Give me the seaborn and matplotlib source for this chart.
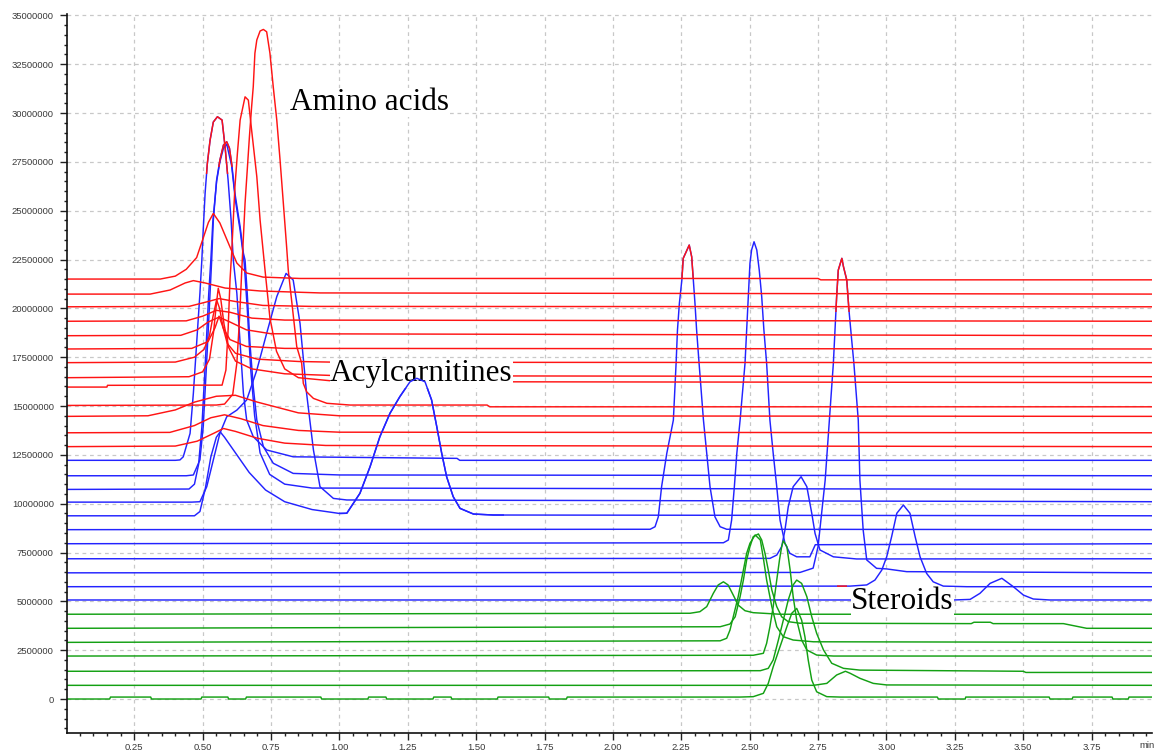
import numpy as np
import pandas as pd
import matplotlib
matplotlib.use("Agg")
import matplotlib.pyplot as plt
from matplotlib.patches import Rectangle
from matplotlib.ticker import MultipleLocator, FuncFormatter
import seaborn as sns

# ---------------- data (time in min, intensity in millions of counts) ----------------
red_traces = [
    [(0, 21.50), (0.345, 21.50), (0.40, 21.65), (0.44, 22.0), (0.478, 22.6), (0.502, 23.6), (0.521, 24.4),
     (0.539, 24.86), (0.563, 24.37), (0.600, 23.14), (0.625, 22.32), (0.661, 21.81), (0.721, 21.60), (0.856, 21.53),
     (2.75, 21.53), (2.76, 21.46), (4.0, 21.46)],
    [(0, 20.73), (0.308, 20.73), (0.381, 20.94), (0.436, 21.30), (0.466, 21.42), (0.509, 21.30), (0.582, 21.04),
     (0.710, 20.89), (0.929, 20.79), (4.0, 20.73)],
    [(0, 20.08), (0.45, 20.10), (0.52, 20.35), (0.56, 20.5), (0.62, 20.35), (0.72, 20.15), (0.9, 20.1),
     (4.0, 20.08)],
    [(0, 19.34), (0.44, 19.36), (0.50, 19.6), (0.55, 19.9), (0.60, 19.8), (0.68, 19.5), (0.8, 19.4), (4.0, 19.34)],
    [(0, 18.60), (0.42, 18.62), (0.48, 18.9), (0.52, 19.3), (0.56, 19.55), (0.60, 19.3), (0.66, 18.9),
     (0.75, 18.7), (4.0, 18.60)],
    [(0, 17.92), (0.46, 17.95), (0.52, 18.3), (0.545, 19.0), (0.560, 19.6), (0.575, 19.0), (0.60, 18.4),
     (0.66, 18.05), (0.8, 17.95), (4.0, 17.92)],
    [(0, 17.22), (0.40, 17.25), (0.47, 17.5), (0.505, 17.9), (0.525, 18.6), (0.538, 19.6), (0.551, 20.43),
     (0.562, 20.0), (0.575, 19.0), (0.59, 18.2), (0.62, 17.7), (0.70, 17.4), (0.85, 17.28), (1.0, 17.24),
     (4.0, 17.22)],
    [(0, 16.45), (0.45, 16.5), (0.50, 16.75), (0.525, 17.4), (0.540, 18.8), (0.550, 20.2), (0.557, 21.03),
     (0.566, 20.5), (0.578, 19.2), (0.595, 18.0), (0.62, 17.3), (0.68, 16.9), (0.80, 16.65), (1.0, 16.55),
     (4.0, 16.5)],
    [(0, 15.97), (0.15, 15.97), (0.152, 16.06), (0.571, 16.07), (0.585, 16.84), (0.593, 18.89), (0.600, 21.45),
     (0.606, 22.82), (0.612, 24.52), (0.618, 26.23), (0.627, 27.93), (0.637, 29.64), (0.655, 30.83), (0.667, 30.66),
     (0.679, 29.13), (0.698, 26.74), (0.710, 24.52), (0.728, 21.96), (0.746, 19.5), (0.77, 17.8), (0.80, 16.9),
     (0.85, 16.45), (1.0, 16.25), (4.0, 16.2)],
    [(0, 15.03), (0.55, 15.05), (0.58, 15.1), (0.61, 15.6), (0.625, 17.2), (0.635, 19.5), (0.643, 21.96),
     (0.649, 23.67), (0.655, 25.38), (0.663, 27.08), (0.671, 28.79), (0.679, 30.32), (0.685, 31.35), (0.691, 33.06),
     (0.698, 33.74), (0.710, 34.2), (0.722, 34.28), (0.734, 34.16), (0.746, 33.06), (0.758, 31.35), (0.771, 29.64),
     (0.783, 27.59), (0.795, 25.38), (0.807, 23.15), (0.813, 21.96), (0.830, 19.8), (0.844, 18.04), (0.862, 17.19),
     (0.868, 16.16), (0.880, 15.73), (0.905, 15.39), (0.954, 15.14), (1.039, 15.05), (1.54, 15.05), (1.55, 14.96),
     (4.0, 14.96)],
    [(0, 14.47), (0.30, 14.5), (0.40, 14.8), (0.47, 15.2), (0.55, 15.5), (0.62, 15.55), (0.70, 15.2),
     (0.85, 14.65), (1.0, 14.5), (4.0, 14.47)],
    [(0, 13.63), (0.38, 13.65), (0.47, 14.0), (0.53, 14.4), (0.58, 14.55), (0.64, 14.35), (0.72, 14.0),
     (0.85, 13.75), (1.0, 13.66), (4.0, 13.63)],
    [(0, 12.92), (0.40, 12.95), (0.48, 13.2), (0.54, 13.6), (0.576, 13.85), (0.62, 13.7), (0.70, 13.35),
     (0.80, 13.1), (0.95, 12.98), (4.0, 12.92)],
]

blue_traces = [
    [(0, 12.22), (0.40, 12.22), (0.417, 12.24), (0.429, 12.40), (0.454, 13.60), (0.466, 15.65), (0.478, 18.21),
     (0.490, 20.77), (0.497, 22.47), (0.502, 24.0), (0.509, 25.9), (0.517, 27.4), (0.527, 28.6), (0.539, 29.54),
     (0.554, 29.81), (0.571, 29.64), (0.582, 28.26), (0.593, 26.57), (0.604, 24.52), (0.612, 22.47), (0.625, 20.77),
     (0.637, 18.21), (0.649, 15.65), (0.661, 14.28), (0.685, 13.43), (0.734, 12.75), (0.831, 12.40), (1.43, 12.32),
     (1.44, 12.22), (4.0, 12.22)],
    [(0, 11.43), (0.44, 11.43), (0.466, 11.47), (0.490, 12.24), (0.502, 13.94), (0.515, 17.35), (0.527, 20.77),
     (0.533, 22.47), (0.539, 24.52), (0.551, 26.57), (0.563, 27.59), (0.576, 28.36), (0.588, 28.53), (0.598, 28.2),
     (0.606, 27.42), (0.618, 25.89), (0.637, 24.18), (0.649, 22.82), (0.655, 22.47), (0.663, 20.77), (0.673, 18.21),
     (0.685, 15.99), (0.698, 14.28), (0.722, 12.92), (0.758, 12.07), (0.831, 11.55), (1.002, 11.47), (4.0, 11.43)],
    [(0, 10.73), (0.45, 10.75), (0.47, 11.0), (0.485, 12.0), (0.497, 13.9), (0.510, 17.3), (0.522, 20.7),
     (0.530, 22.5), (0.537, 24.4), (0.551, 26.5), (0.563, 27.5), (0.576, 28.2), (0.588, 28.4), (0.606, 27.3),
     (0.620, 25.5), (0.637, 24.0), (0.652, 22.3), (0.663, 20.0), (0.675, 17.0), (0.690, 14.5), (0.710, 12.6),
     (0.745, 11.5), (0.80, 11.0), (0.9, 10.8), (4.0, 10.73)],
    [(0, 10.08), (0.46, 10.08), (0.490, 10.10), (0.515, 10.87), (0.539, 12.24), (0.563, 13.60), (0.588, 14.45),
     (0.625, 14.79), (0.661, 15.31), (0.698, 16.84), (0.734, 18.72), (0.771, 20.60), (0.805, 21.79), (0.831, 21.45),
     (0.856, 19.23), (0.880, 15.65), (0.905, 12.75), (0.929, 10.87), (0.978, 10.27), (1.027, 10.19), (4.0, 10.10)],
    [(0, 9.38), (0.47, 9.38), (0.49, 9.6), (0.51, 10.8), (0.53, 12.4), (0.55, 13.4), (0.564, 13.68), (0.58, 13.4),
     (0.62, 12.6), (0.67, 11.6), (0.73, 10.7), (0.80, 10.1), (0.90, 9.7), (1.0, 9.5), (1.027, 9.51), (1.075, 10.53),
     (1.112, 11.89), (1.148, 13.43), (1.185, 14.63), (1.221, 15.48), (1.258, 16.24), (1.283, 16.42), (1.313, 16.24),
     (1.337, 15.31), (1.356, 13.94), (1.374, 12.58), (1.392, 11.38), (1.416, 10.36), (1.441, 9.76), (1.490, 9.47),
     (1.563, 9.42), (4.0, 9.38)],
    [(0, 8.67), (2.136, 8.69), (2.154, 8.82), (2.166, 9.33), (2.178, 10.87), (2.197, 12.58), (2.221, 14.28),
     (2.231, 17.19), (2.236, 18.89), (2.243, 20.26), (2.252, 21.45), (2.257, 22.56), (2.279, 23.24), (2.288, 22.64),
     (2.294, 21.45), (2.300, 20.26), (2.306, 18.89), (2.315, 17.19), (2.331, 14.28), (2.343, 12.58), (2.355, 10.87),
     (2.373, 9.33), (2.392, 8.82), (2.416, 8.69), (4.0, 8.67)],
    [(0, 7.95), (2.404, 8.00), (2.422, 8.14), (2.434, 9.16), (2.444, 10.87), (2.453, 12.58), (2.465, 14.28),
     (2.483, 17.19), (2.489, 18.89), (2.495, 20.60), (2.501, 22.30), (2.507, 22.99), (2.516, 23.41), (2.526, 22.99),
     (2.535, 21.96), (2.544, 20.60), (2.552, 18.89), (2.562, 17.19), (2.574, 14.28), (2.586, 12.58), (2.599, 10.87),
     (2.611, 9.16), (2.629, 7.97), (2.647, 7.46), (2.672, 7.28), (2.72, 7.28), (2.74, 7.9), (4.0, 7.95)],
    [(0, 7.18), (2.574, 7.20), (2.599, 7.37), (2.617, 7.80), (2.629, 8.65), (2.641, 9.84), (2.659, 10.87),
     (2.688, 11.38), (2.709, 10.87), (2.727, 9.51), (2.739, 8.48), (2.757, 7.63), (2.806, 7.28), (2.891, 7.17),
     (4.0, 7.18)],
    [(0, 6.46), (2.684, 6.48), (2.732, 6.7), (2.750, 7.8), (2.776, 11.2), (2.806, 17.19), (2.812, 18.89),
     (2.818, 20.60), (2.824, 21.96), (2.837, 22.56), (2.843, 22.13), (2.855, 21.45), (2.863, 19.91), (2.873, 18.38),
     (2.881, 17.19), (2.897, 14.28), (2.903, 11.21), (2.915, 8.65), (2.928, 7.12), (2.964, 6.69), (3.001, 6.66),
     (3.074, 6.52), (4.0, 6.46)],
    [(0, 5.75), (2.867, 5.78), (2.928, 5.84), (2.958, 6.09), (2.983, 6.60), (3.001, 7.28), (3.019, 8.31),
     (3.038, 9.51), (3.062, 9.93), (3.086, 9.51), (3.105, 8.31), (3.123, 7.28), (3.147, 6.43), (3.171, 6.00),
     (3.208, 5.78), (3.294, 5.75), (4.0, 5.75)],
    [(0, 5.07), (3.245, 5.07), (3.306, 5.10), (3.342, 5.41), (3.379, 5.92), (3.422, 6.18), (3.464, 5.75),
     (3.501, 5.32), (3.537, 5.12), (3.598, 5.07), (4.0, 5.07)],
]

green_traces = [
    [(0, 4.34), (2.282, 4.39), (2.318, 4.47), (2.343, 4.73), (2.367, 5.41), (2.385, 5.84), (2.404, 6.00),
     (2.421, 5.84), (2.440, 5.32), (2.458, 4.81), (2.483, 4.52), (2.513, 4.42), (2.611, 4.34), (4.0, 4.34)],
    [(0, 3.62), (2.392, 3.70), (2.428, 3.84), (2.447, 4.21), (2.465, 5.24), (2.477, 6.09), (2.489, 7.12),
     (2.501, 7.80), (2.513, 8.31), (2.532, 8.45), (2.544, 8.14), (2.556, 7.46), (2.568, 6.60), (2.581, 5.58),
     (2.599, 4.73), (2.617, 4.21), (2.641, 3.96), (2.684, 3.88), (3.31, 3.86), (3.32, 3.93), (3.38, 3.93),
     (3.39, 3.86), (3.647, 3.86), (3.732, 3.62), (4.0, 3.62)],
    [(0, 2.90), (2.392, 2.98), (2.416, 3.11), (2.428, 3.53), (2.440, 4.21), (2.458, 5.24), (2.477, 6.60),
     (2.489, 7.46), (2.501, 7.97), (2.520, 8.40), (2.539, 8.14), (2.551, 7.12), (2.562, 6.09), (2.581, 4.73),
     (2.599, 3.70), (2.623, 3.19), (2.659, 3.02), (2.733, 2.93), (4.0, 2.90)],
    [(0, 2.20), (2.513, 2.24), (2.550, 2.34), (2.562, 2.85), (2.574, 3.70), (2.586, 4.73), (2.599, 6.09),
     (2.609, 7.12), (2.617, 7.80), (2.623, 8.10), (2.636, 7.80), (2.648, 6.60), (2.659, 5.24), (2.672, 4.04),
     (2.690, 3.02), (2.709, 2.51), (2.745, 2.25), (2.806, 2.20), (4.0, 2.20)],
    [(0, 1.42), (2.539, 1.45), (2.568, 1.57), (2.586, 2.00), (2.605, 3.02), (2.623, 4.04), (2.641, 5.07),
     (2.659, 5.84), (2.672, 6.09), (2.690, 5.92), (2.709, 5.24), (2.727, 4.21), (2.745, 3.36), (2.770, 2.51),
     (2.800, 1.83), (2.843, 1.57), (2.903, 1.48), (3.5, 1.42), (3.51, 1.36), (4.0, 1.36)],
    [(0, 0.70), (2.733, 0.70), (2.782, 0.80), (2.818, 1.23), (2.850, 1.42), (2.867, 1.32), (2.903, 1.06),
     (2.952, 0.80), (3.001, 0.72), (4.0, 0.70)],
    [(0, 0.0), (0.16, 0.0), (0.163, 0.1), (0.31, 0.1), (0.313, 0.0), (0.494, 0.0), (0.497, 0.1), (0.592, 0.1),
     (0.595, 0.0), (0.657, 0.0), (0.66, 0.1), (0.932, 0.1), (0.935, 0.0), (1.104, 0.0), (1.107, 0.1), (1.17, 0.1),
     (1.173, 0.0), (1.342, 0.0), (1.345, 0.1), (1.408, 0.1), (1.411, 0.0), (1.577, 0.0), (1.58, 0.1), (1.765, 0.1),
     (1.768, 0.0), (1.83, 0.0), (1.833, 0.1), (2.465, 0.1), (2.513, 0.12), (2.550, 0.29), (2.568, 0.80),
     (2.586, 1.65), (2.611, 2.68), (2.636, 3.70), (2.654, 4.39), (2.672, 4.64), (2.690, 4.04), (2.702, 3.19),
     (2.714, 2.00), (2.727, 0.97), (2.745, 0.37), (2.782, 0.12), (2.831, 0.1), (3.186, 0.1), (3.19, 0.0),
     (3.288, 0.0), (3.29, 0.1), (3.595, 0.1), (3.598, 0.0), (3.679, 0.0), (3.682, 0.1), (3.825, 0.1),
     (3.828, 0.0), (3.884, 0.0), (3.887, 0.1), (4.0, 0.1)],
]

# parts of blue traces that show in red: trace, time window (min), level above which (millions)
red_part_trace = ["blue00", "blue01", "blue05", "blue08", "blue09"]
red_part_t0 = [0.0, 0.0, 0.0, 0.0, 2.82]
red_part_t1 = [4.0, 4.0, 4.0, 4.0, 2.855]
red_part_level = [26.9, 27.25, 21.5, 19.8, 0.0]

labels = ["Amino acids", "Acylcarnitines", "Steroids"]
label_t = [0.819, 0.966, 2.871]
label_v = [30.15, 16.28, 4.61]

colors = {"red": "#ff1414", "blue": "#2323ff", "green": "#13a013"}

# ---------------- build table ----------------
rows = []
for group, traces in (("blue", blue_traces), ("green", green_traces), ("red", red_traces)):
    for i, tr in enumerate(traces):
        for k, (t, v) in enumerate(tr):
            rows.append((f"{group}{i:02d}", group, k, t, v * 1e6))
df = pd.DataFrame(rows, columns=["trace", "group", "order", "t", "v"])

sns.set_theme(style="white")
plt.rcParams["font.family"] = ["Liberation Sans", "DejaVu Sans"]

fig = plt.figure(figsize=(11.56, 7.56), dpi=100)
ax = fig.add_axes([67 / 1156, 1 - 733 / 756, (1152 - 67) / 1156, (733 - 14) / 756])

LW = 1.05
for group in ["blue", "green", "red"]:
    sub = df[df.group == group]
    sns.lineplot(data=sub, x="t", y="v", units="trace", estimator=None, sort=False,
                 color=colors[group], lw=LW, ax=ax, legend=False)

# the acylcarnitine trace with the 1.28 min peak stays visible in front of the label
n0 = len(ax.lines)
sns.lineplot(data=df[df.trace == "blue04"], x="t", y="v", estimator=None, sort=False,
             color=colors["blue"], lw=LW, ax=ax, legend=False)
for ln in ax.lines[n0:]:
    ln.set_zorder(7)
    ln.set_clip_path(Rectangle((1.0, -1e9), 0.6, 2e9, transform=ax.transData))

for name, t0, t1, lvl in zip(red_part_trace, red_part_t0, red_part_t1, red_part_level):
    sub = df[df.trace == name]
    n0 = len(ax.lines)
    sns.lineplot(data=sub, x="t", y="v", estimator=None, sort=False,
                 color=colors["red"], lw=LW, ax=ax, legend=False)
    for ln in ax.lines[n0:]:
        ln.set_clip_path(Rectangle((t0, lvl * 1e6), t1 - t0, 1e9, transform=ax.transData))

ax.set_xlim(0.004, 3.971)
ax.set_ylim(-1.74e6, 35.07e6)
ax.set_xlabel("")
ax.set_ylabel("")

ax.xaxis.set_major_locator(MultipleLocator(0.25))
ax.xaxis.set_minor_locator(MultipleLocator(0.05))
ax.yaxis.set_major_locator(MultipleLocator(2.5e6))
ax.yaxis.set_minor_locator(MultipleLocator(0.5e6))
ax.xaxis.set_major_formatter(FuncFormatter(lambda x, p: f"{x:.2f}"))
ax.yaxis.set_major_formatter(FuncFormatter(lambda y, p: f"{int(round(y))}"))

ax.tick_params(axis="both", which="major", direction="out", length=5, width=1.0, color="#222222",
               labelsize=6.8, labelcolor="#3a3a3a")
ax.tick_params(axis="y", which="major", pad=4.5)
ax.tick_params(axis="x", which="major", pad=2.5)
ax.tick_params(axis="both", which="minor", direction="out", length=2.4, width=1.0, color="#222222")
ax.tick_params(bottom=True, left=True, which="both")

ax.grid(True, which="major", ls=(0, (3, 3)), color="#c8c8c8", lw=0.9)
ax.set_axisbelow(True)
for s in ["top", "right"]:
    ax.spines[s].set_visible(False)
for s in ["left", "bottom"]:
    ax.spines[s].set_color("#111111")
    ax.spines[s].set_linewidth(1.2)

for txt, t, v in zip(labels, label_t, label_v):
    ax.text(t, v * 1e6, txt, fontfamily=["Liberation Serif"], fontsize=22.5, color="black",
            ha="left", va="baseline", zorder=6,
            bbox=dict(facecolor="white", edgecolor="none", pad=0.0))

fig.text(1155 / 1156, 1 - 746 / 756, "min", ha="right", va="center", fontsize=6.8, color="#3a3a3a")

fig.savefig("out.png", dpi=100)
